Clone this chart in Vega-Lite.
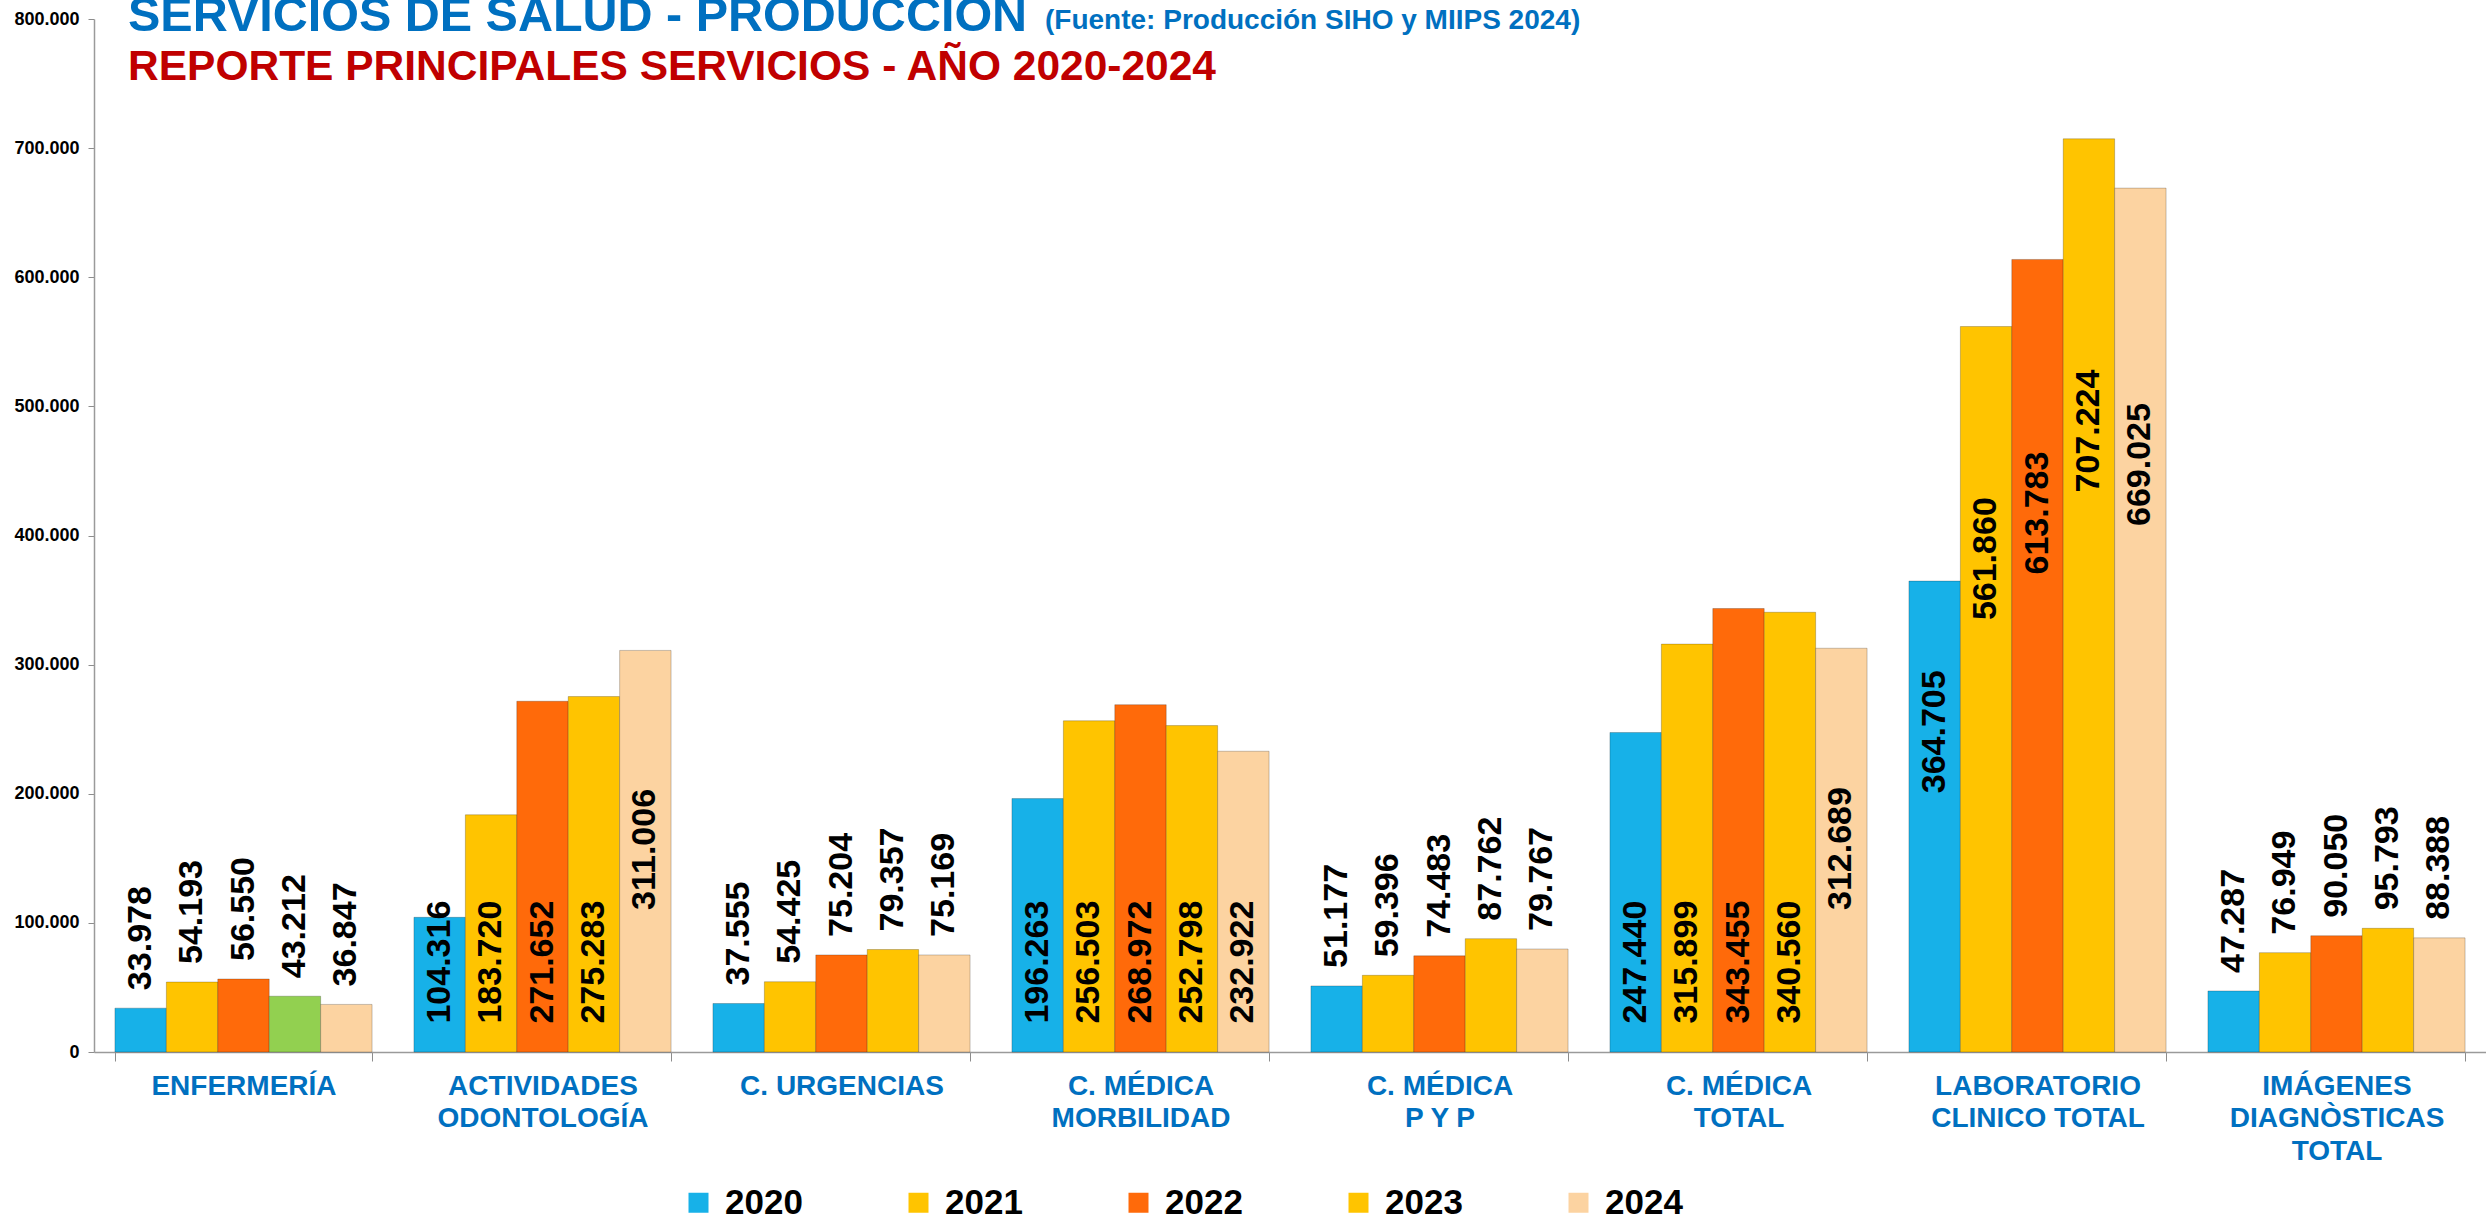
{
  "$schema": "https://vega.github.io/schema/vega-lite/v6.json",
  "width": 2392,
  "height": 1033,
  "autosize": {"type": "none"},
  "padding": {"left": 94, "top": 19, "right": 0, "bottom": 169},
  "background": "white",
  "config": {
    "locale": {"number": {"decimal": ",", "thousands": ".", "grouping": [3], "currency": ["$", ""]}},
    "view": {"stroke": null},
    "font": "Liberation Sans"
  },
  "title": {
    "text": "SERVICIOS DE SALUD  - PRODUCCIÓN",
    "subtitle": "REPORTE PRINCIPALES SERVICIOS - AÑO 2020-2024",
    "anchor": "start",
    "frame": "group",
    "orient": "top",
    "dx": 34,
    "offset": -82,
    "font": "Liberation Sans",
    "fontSize": 48.5,
    "fontWeight": "bold",
    "color": "#0070C0",
    "subtitleFont": "Liberation Sans",
    "subtitleFontSize": 42.5,
    "subtitleFontWeight": "bold",
    "subtitleColor": "#C00000",
    "subtitlePadding": 4
  },
  "data": {
    "values": [
      {"servicio": "ENFERMERÍA", "anio": "2020", "valor": 33978},
      {"servicio": "ENFERMERÍA", "anio": "2021", "valor": 54193},
      {"servicio": "ENFERMERÍA", "anio": "2022", "valor": 56550},
      {"servicio": "ENFERMERÍA", "anio": "2023", "valor": 43212},
      {"servicio": "ENFERMERÍA", "anio": "2024", "valor": 36847},
      {"servicio": "ACTIVIDADES|ODONTOLOGÍA", "anio": "2020", "valor": 104316},
      {"servicio": "ACTIVIDADES|ODONTOLOGÍA", "anio": "2021", "valor": 183720},
      {"servicio": "ACTIVIDADES|ODONTOLOGÍA", "anio": "2022", "valor": 271652},
      {"servicio": "ACTIVIDADES|ODONTOLOGÍA", "anio": "2023", "valor": 275283},
      {"servicio": "ACTIVIDADES|ODONTOLOGÍA", "anio": "2024", "valor": 311006},
      {"servicio": "C. URGENCIAS", "anio": "2020", "valor": 37555},
      {"servicio": "C. URGENCIAS", "anio": "2021", "valor": 54425},
      {"servicio": "C. URGENCIAS", "anio": "2022", "valor": 75204},
      {"servicio": "C. URGENCIAS", "anio": "2023", "valor": 79357},
      {"servicio": "C. URGENCIAS", "anio": "2024", "valor": 75169},
      {"servicio": "C. MÉDICA|MORBILIDAD", "anio": "2020", "valor": 196263},
      {"servicio": "C. MÉDICA|MORBILIDAD", "anio": "2021", "valor": 256503},
      {"servicio": "C. MÉDICA|MORBILIDAD", "anio": "2022", "valor": 268972},
      {"servicio": "C. MÉDICA|MORBILIDAD", "anio": "2023", "valor": 252798},
      {"servicio": "C. MÉDICA|MORBILIDAD", "anio": "2024", "valor": 232922},
      {"servicio": "C. MÉDICA|P Y P", "anio": "2020", "valor": 51177},
      {"servicio": "C. MÉDICA|P Y P", "anio": "2021", "valor": 59396},
      {"servicio": "C. MÉDICA|P Y P", "anio": "2022", "valor": 74483},
      {"servicio": "C. MÉDICA|P Y P", "anio": "2023", "valor": 87762},
      {"servicio": "C. MÉDICA|P Y P", "anio": "2024", "valor": 79767},
      {"servicio": "C. MÉDICA|TOTAL", "anio": "2020", "valor": 247440},
      {"servicio": "C. MÉDICA|TOTAL", "anio": "2021", "valor": 315899},
      {"servicio": "C. MÉDICA|TOTAL", "anio": "2022", "valor": 343455},
      {"servicio": "C. MÉDICA|TOTAL", "anio": "2023", "valor": 340560},
      {"servicio": "C. MÉDICA|TOTAL", "anio": "2024", "valor": 312689},
      {"servicio": "LABORATORIO|CLINICO TOTAL", "anio": "2020", "valor": 364705},
      {"servicio": "LABORATORIO|CLINICO TOTAL", "anio": "2021", "valor": 561860},
      {"servicio": "LABORATORIO|CLINICO TOTAL", "anio": "2022", "valor": 613783},
      {"servicio": "LABORATORIO|CLINICO TOTAL", "anio": "2023", "valor": 707224},
      {"servicio": "LABORATORIO|CLINICO TOTAL", "anio": "2024", "valor": 669025},
      {"servicio": "IMÁGENES|DIAGNÒSTICAS|TOTAL", "anio": "2020", "valor": 47287},
      {"servicio": "IMÁGENES|DIAGNÒSTICAS|TOTAL", "anio": "2021", "valor": 76949},
      {"servicio": "IMÁGENES|DIAGNÒSTICAS|TOTAL", "anio": "2022", "valor": 90050},
      {"servicio": "IMÁGENES|DIAGNÒSTICAS|TOTAL", "anio": "2023", "valor": 95793},
      {"servicio": "IMÁGENES|DIAGNÒSTICAS|TOTAL", "anio": "2024", "valor": 88388}
    ]
  },
  "resolve": {"scale": {"y": "independent"}},
  "layer": [
    {
      "mark": {"type": "bar", "stroke": "#000000", "strokeOpacity": 0.22, "strokeWidth": 1},
      "encoding": {
        "x": {
          "field": "servicio", "type": "nominal", "sort": null,
          "scale": {
            "domain": ["ENFERMERÍA", "ACTIVIDADES|ODONTOLOGÍA", "C. URGENCIAS", "C. MÉDICA|MORBILIDAD", "C. MÉDICA|P Y P", "C. MÉDICA|TOTAL", "LABORATORIO|CLINICO TOTAL", "IMÁGENES|DIAGNÒSTICAS|TOTAL"],
            "paddingInner": 0.14, "paddingOuter": 0.07
          },
          "axis": {
            "title": null,
            "labelExpr": "split(datum.label, '|')",
            "labelFont": "Liberation Sans",
            "labelFontSize": 28,
            "labelFontWeight": "bold",
            "labelColor": "#0070C0",
            "labelAngle": 0,
            "labelLineHeight": 32.5,
            "labelPadding": 11,
            "labelBaseline": "top",
            "labelLimit": 0,
            "tickBand": "extent",
            "tickSize": 9,
            "tickColor": "#8c8c8c",
            "domainColor": "#9a9a9a",
            "domainWidth": 1.5
          }
        },
        "xOffset": {"field": "anio", "type": "nominal", "scale": {"paddingInner": 0, "paddingOuter": 0}},
        "y": {
          "field": "valor", "type": "quantitative",
          "scale": {"domain": [0, 800000], "nice": false},
          "axis": {
            "title": null,
            "values": [0, 100000, 200000, 300000, 400000, 500000, 600000, 700000, 800000],
            "format": ",d",
            "grid": false,
            "labelFont": "Liberation Sans",
            "labelFontSize": 18,
            "labelFontWeight": "bold",
            "labelColor": "#000000",
            "labelPadding": 9,
            "tickSize": 6,
            "tickColor": "#8c8c8c",
            "domainColor": "#9a9a9a",
            "domainWidth": 1.5
          }
        },
        "color": {
          "condition": {"test": "datum.servicio === 'ENFERMERÍA' && datum.anio === '2023'", "value": "#92D050"},
          "field": "anio", "type": "nominal",
          "scale": {"domain": ["2020", "2021", "2022", "2023", "2024"], "range": ["#17B1E8", "#FFC400", "#FF6A0A", "#FFC400", "#FCD3A1"]},
          "legend": {
            "orient": "none",
            "legendX": 587,
            "legendY": 1166,
            "direction": "horizontal",
            "title": null,
            "symbolType": "square",
            "symbolSize": 400,
            "symbolStrokeWidth": 0,
            "labelFont": "Liberation Sans",
            "labelFontSize": 35,
            "labelFontWeight": "bold",
            "labelColor": "#000000",
            "labelOffset": 9,
            "columnPadding": 98
          }
        }
      }
    },
    {
      "transform": [{"filter": "datum.valor < 100000"}],
      "mark": {"type": "text", "angle": -90, "align": "left", "baseline": "middle", "dx": 18, "font": "Liberation Sans", "fontSize": 34, "fontWeight": "bold", "color": "#000000"},
      "encoding": {
        "x": {"field": "servicio", "type": "nominal", "sort": null},
        "xOffset": {"field": "anio", "type": "nominal"},
        "y": {"field": "valor", "type": "quantitative", "scale": {"domain": [0, 800000], "nice": false}, "axis": null},
        "text": {"field": "valor", "type": "quantitative", "format": ",d"}
      }
    },
    {
      "transform": [{"filter": "datum.valor >= 100000 && datum.valor < 350000 && !(datum.anio === '2024' && datum.valor > 300000)"}],
      "mark": {"type": "text", "angle": -90, "align": "left", "baseline": "middle", "font": "Liberation Sans", "fontSize": 34, "fontWeight": "bold", "color": "#000000"},
      "encoding": {
        "x": {"field": "servicio", "type": "nominal", "sort": null},
        "xOffset": {"field": "anio", "type": "nominal"},
        "y": {"datum": 22000, "type": "quantitative", "scale": {"domain": [0, 800000], "nice": false}, "axis": null},
        "text": {"field": "valor", "type": "quantitative", "format": ",d"}
      }
    },
    {
      "transform": [{"filter": "datum.anio === '2024' && datum.valor > 300000 && datum.valor < 350000"}],
      "mark": {"type": "text", "angle": -90, "align": "left", "baseline": "middle", "font": "Liberation Sans", "fontSize": 34, "fontWeight": "bold", "color": "#000000"},
      "encoding": {
        "x": {"field": "servicio", "type": "nominal", "sort": null},
        "xOffset": {"field": "anio", "type": "nominal"},
        "y": {"datum": 110000, "type": "quantitative", "scale": {"domain": [0, 800000], "nice": false}, "axis": null},
        "text": {"field": "valor", "type": "quantitative", "format": ",d"}
      }
    },
    {
      "transform": [{"filter": "datum.valor >= 350000"}],
      "mark": {"type": "text", "angle": -90, "align": "center", "baseline": "middle", "font": "Liberation Sans", "fontSize": 34, "fontWeight": "bold", "color": "#000000"},
      "encoding": {
        "x": {"field": "servicio", "type": "nominal", "sort": null},
        "xOffset": {"field": "anio", "type": "nominal"},
        "y": {"field": "valor", "type": "quantitative", "scale": {"domain": [0, 1176470], "nice": false}, "axis": null},
        "text": {"field": "valor", "type": "quantitative", "format": ",d"}
      }
    },
    {
      "data": {"values": [{"fuente": "(Fuente: Producción SIHO y MIIPS 2024)"}]},
      "mark": {"type": "text", "align": "left", "baseline": "alphabetic", "font": "Liberation Sans", "fontSize": 28, "fontWeight": "bold", "color": "#0070C0"},
      "encoding": {
        "x": {"value": 951},
        "y": {"value": 10},
        "text": {"field": "fuente", "type": "nominal"}
      }
    }
  ]
}
